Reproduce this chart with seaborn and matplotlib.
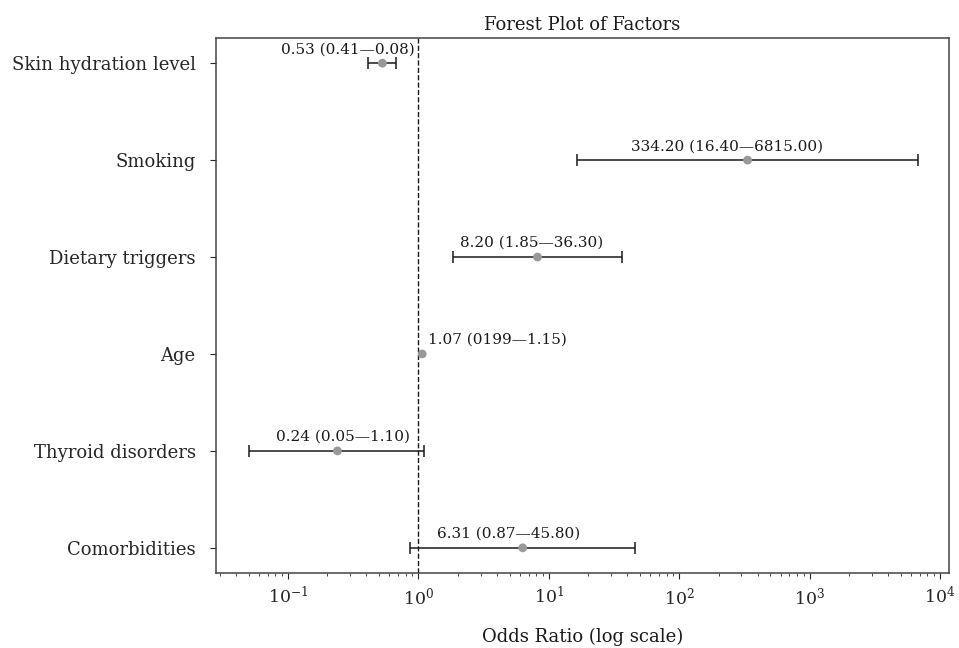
import numpy as np
import pandas as pd
import matplotlib
matplotlib.use("Agg")
import matplotlib.pyplot as plt
import seaborn as sns

factors = ["Skin hydration level", "Smoking", "Dietary triggers", "Age",
           "Thyroid disorders", "Comorbidities"]
odds_ratio = [0.53, 334.20, 8.20, 1.07, 0.24, 6.31]
ci_low = [0.41, 16.40, 1.85, np.nan, 0.05, 0.87]
ci_high = [0.68, 6815.00, 36.30, np.nan, 1.10, 45.80]
labels = ["0.53 (0.41\u20140.08)", "334.20 (16.40\u20146815.00)",
          "8.20 (1.85\u201436.30)", "1.07 (0199\u20141.15)",
          "0.24 (0.05\u20141.10)", "6.31 (0.87\u201445.80)"]

df = pd.DataFrame({"factor": factors, "or": odds_ratio,
                   "low": ci_low, "high": ci_high, "label": labels})
df["pos"] = np.arange(len(df))

sns.set_style("ticks")
plt.rcParams["font.family"] = ["DejaVu Serif"]
plt.rcParams["mathtext.fontset"] = "dejavuserif"

fig = plt.figure(figsize=(9.59, 6.48), dpi=100)
ax = fig.add_axes([0.225, 0.1157, 0.7646, 0.8257])

ok = df.dropna(subset=["low", "high"])
ax.errorbar(ok["or"], ok["pos"],
            xerr=[ok["or"] - ok["low"], ok["high"] - ok["or"]],
            fmt="none", ecolor="#1a1a1a", elinewidth=1.1, capsize=4.5,
            capthick=1.1, zorder=2)
sns.scatterplot(data=df, x="or", y="pos", color="#999999", s=40,
                edgecolor="none", zorder=3, ax=ax, legend=False)

ax.axvline(1, color="#1a1a1a", linestyle="--", linewidth=1, zorder=1)

ax.set_xscale("log")
ax.set_xlim(0.028, 11700)
ax.set_ylim(len(df) - 1 + 0.26, -0.26)
ax.set_yticks(df["pos"])
ax.set_yticklabels(df["factor"], fontsize=13)
ax.tick_params(axis="y", length=4.5, pad=10)
ax.tick_params(axis="x", which="major", labelsize=12.5, length=4.5, pad=5)
ax.tick_params(axis="x", which="minor", length=2.5)

# label offsets (points)
offsets = [(-25, 5, "center"), (-15, 5, "center"), (-4, 5, "center"),
           (4, 5, "left"), (4, 5, "center"), (-10, 5, "center")]
for (_, r), (dx, dy, ha) in zip(df.iterrows(), offsets):
    ax.annotate(r["label"], (r["or"], r["pos"]), xytext=(dx, dy),
                textcoords="offset points", ha=ha, va="bottom",
                fontsize=11, color="#1a1a1a")

ax.set_title("Forest Plot of Factors", fontsize=13, pad=6, color="#1a1a1a")
ax.set_xlabel("Odds Ratio (log scale)", fontsize=13, labelpad=14,
              color="#1a1a1a")
ax.set_ylabel("")
for s in ax.spines.values():
    s.set_color("#444444")
    s.set_linewidth(1.1)

fig.savefig("out.png", dpi=100)
